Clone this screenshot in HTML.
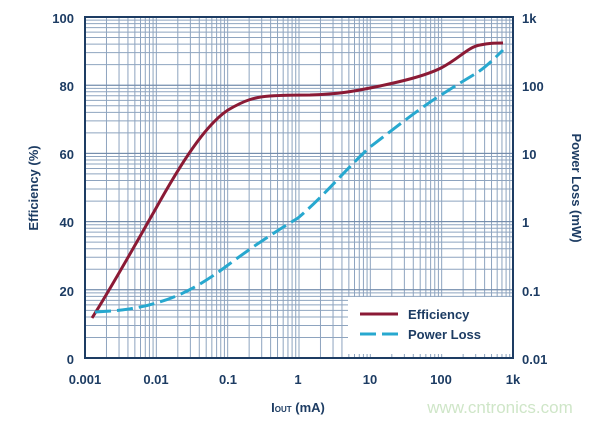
<!DOCTYPE html><html><head><style>body{margin:0;background:#fff}svg{display:block}text{font-family:"Liberation Sans",sans-serif;font-weight:bold;fill:#1d3c63}</style></head><body>
<svg id="s" width="600" height="422" viewBox="0 0 600 422">
<g id="grid" stroke="#8ea4bf" stroke-width="1"></g>
<rect x="348" y="297" width="164" height="57" fill="#fff"/>
<rect x="85" y="17" width="428" height="341" fill="none" stroke="#1d3c63" stroke-width="2"/>
<path d="M92,318 C110,290 135,245 155,210 C180,165 205,125 228,110 C245,100 255,97 270,96 C285,95 295,95 310,95 C340,94 355,91 370,88 C400,82 425,76 441,68 C460,58 468,47 480,45 C490,43 495,43 503,43" fill="none" stroke="#8b1a35" stroke-width="3"/>
<path d="M95,312 C120,311 140,308 156,303 C185,295 208,280 228,265 C255,245 275,232 298,218 C325,195 345,170 370,147 C395,128 420,108 441,95 C455,86 465,80 475,74 C485,68 495,58 503,50" fill="none" stroke="#27a8cf" stroke-width="3" stroke-dasharray="16,6"/>
<line x1="360" y1="314" x2="398" y2="314" stroke="#8b1a35" stroke-width="3"/>
<line x1="360" y1="334" x2="398" y2="334" stroke="#27a8cf" stroke-width="3" stroke-dasharray="16,6"/>
<text x="408" y="319" font-size="13">Efficiency</text>
<text x="408" y="339" font-size="13">Power Loss</text>
<g font-size="13" text-anchor="end">
<text x="74" y="23">100</text><text x="74" y="91">80</text><text x="74" y="159">60</text><text x="74" y="227">40</text><text x="74" y="296">20</text><text x="74" y="364">0</text></g>
<g font-size="13">
<text x="522" y="23">1k</text><text x="522" y="91">100</text><text x="522" y="159">10</text><text x="522" y="227">1</text><text x="522" y="296">0.1</text><text x="522" y="364">0.01</text></g>
<g font-size="13" text-anchor="middle">
<text x="85" y="384">0.001</text><text x="156" y="384">0.01</text><text x="228" y="384">0.1</text><text x="298" y="384">1</text><text x="370" y="384">10</text><text x="441" y="384">100</text><text x="513" y="384">1k</text></g>
<text x="298" y="412" font-size="13" text-anchor="middle">I<tspan font-size="8">OUT</tspan> (mA)</text>
<text transform="translate(38,188) rotate(-90)" font-size="13" text-anchor="middle">Efficiency (%)</text>
<text transform="translate(572,188) rotate(90)" font-size="13" text-anchor="middle">Power Loss (mW)</text>
<text x="500" y="413" font-size="17" text-anchor="middle" style="fill:#cfe6c8;font-weight:normal">www.cntronics.com</text>
</svg>
<script>
var g=document.getElementById('grid'),h='';
var L=85,R=513,T=17,B=358,dx=(R-L)/6,dy=(B-T)/5;
for(var d=0;d<6;d++)for(var k=1;k<10;k++){var x=L+dx*(d+Math.log10(k));h+='<line x1="'+x+'" y1="'+T+'" x2="'+x+'" y2="'+B+'"/>';}
for(var d=0;d<5;d++)for(var k=1;k<10;k++){var y=B-dy*(d+Math.log10(k));h+='<line x1="'+L+'" y1="'+y+'" x2="'+R+'" y2="'+y+'"/>';}
for(var i=0;i<=5;i++){var y=B-i*68.2;h+='<line x1="'+L+'" y1="'+y+'" x2="'+R+'" y2="'+y+'" stroke="#6f87a8"/>';}
g.innerHTML=h;
</script>
</body></html>
